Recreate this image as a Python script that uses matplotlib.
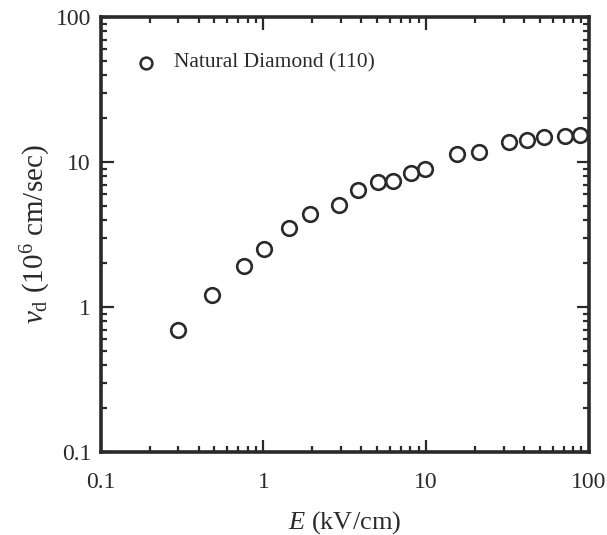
import numpy as np
import matplotlib
matplotlib.use('Agg')
import matplotlib.pyplot as plt
from matplotlib.ticker import LogLocator, NullFormatter, FixedLocator, FixedFormatter

plt.rcParams['font.family'] = 'Liberation Serif'
plt.rcParams['mathtext.fontset'] = 'custom'
plt.rcParams['mathtext.rm'] = 'Liberation Serif'
plt.rcParams['mathtext.it'] = 'Liberation Serif:italic'
plt.rcParams['mathtext.bf'] = 'Liberation Serif:bold'

# drift velocity vs electric field, natural diamond (110)
field = [0.30, 0.48, 0.76, 1.01, 1.44, 1.93, 2.93, 3.79, 5.09, 6.28, 8.03, 9.89,
         15.5, 21.1, 32.3, 41.6, 53.0, 71.9, 88.7]
vd = [0.70, 1.21, 1.92, 2.50, 3.52, 4.42, 5.05, 6.40, 7.32, 7.40, 8.41, 8.98,
      11.3, 11.8, 13.7, 14.2, 14.9, 15.1, 15.5]
label = 'Natural Diamond (110)'
ticks = [0.1, 1, 10, 100]
tick_labels = ['0.1', '1', '10', '100']

ink = '#2a2a2a'
fig = plt.figure(figsize=(6.07, 5.35), dpi=100)
ax = fig.add_axes([0.166, 0.155, 0.804, 0.813])

ax.plot(field, vd, 'o', mfc='none', mec=ink, ms=10.5, mew=1.9, ls='none')
# legend drawn as a marker + text inside the axes
ax.plot([0.19], [48.4], 'o', mfc='none', mec=ink, ms=8.5, mew=1.8)
ax.text(0.283, 48.4, label, fontsize=15.5, color=ink, va='center')

ax.set_xscale('log')
ax.set_yscale('log')
ax.set_xlim(0.1, 100)
ax.set_ylim(0.1, 100)

for axis in (ax.xaxis, ax.yaxis):
    axis.set_major_locator(FixedLocator(ticks))
    axis.set_major_formatter(FixedFormatter(tick_labels))
    axis.set_minor_locator(LogLocator(base=10, subs=np.arange(2, 10)))
    axis.set_minor_formatter(NullFormatter())

ax.tick_params(which='both', direction='in', top=True, right=True, color=ink,
               labelsize=17, labelcolor=ink)
ax.tick_params(which='major', length=9, width=1.6)
ax.tick_params(which='minor', length=4, width=1.6)
ax.tick_params(axis='x', which='major', pad=14)
ax.tick_params(axis='y', which='major', pad=7)
for s in ax.spines.values():
    s.set_linewidth(2.6)
    s.set_color(ink)

ax.set_xlabel(r'$\mathit{E}$ (kV/cm)', fontsize=19, color=ink, labelpad=12)
ax.set_ylabel(r'$v_{\rm d}$ (10$^{6}$ cm/sec)', fontsize=21, color=ink, labelpad=2)

fig.savefig('out.png', dpi=100)
